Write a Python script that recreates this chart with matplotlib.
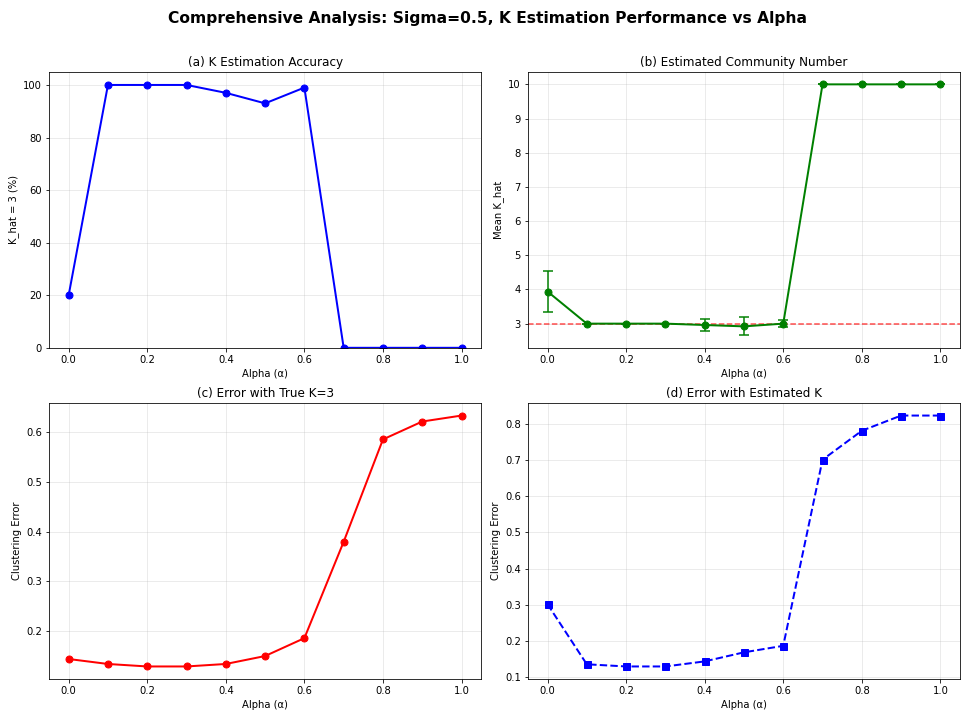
import numpy as np
import matplotlib
matplotlib.use('Agg')
import matplotlib.pyplot as plt

# data
alphas = [0.0, 0.1, 0.2, 0.3, 0.4, 0.5, 0.6, 0.7, 0.8, 0.9, 1.0]
k_acc = [20, 100, 100, 100, 97, 93, 99, 0, 0, 0, 0]
k_mean = [3.94, 3.0, 3.0, 3.0, 2.96, 2.92, 3.0, 10.0, 10.0, 10.0, 10.0]
k_std = [0.59, 0.0, 0.0, 0.0, 0.18, 0.26, 0.1, 0.0, 0.0, 0.0, 0.0]
err_true = [0.144, 0.134, 0.129, 0.129, 0.134, 0.150, 0.186, 0.380, 0.586, 0.622, 0.634]
err_est = [0.302, 0.136, 0.130, 0.130, 0.144, 0.169, 0.187, 0.701, 0.781, 0.823, 0.823]
true_k = 3

DPI = 72
fig, axes = plt.subplots(2, 2, figsize=(961/DPI, 711/DPI), dpi=DPI)
fig.suptitle('Comprehensive Analysis: Sigma=0.5, K Estimation Performance vs Alpha',
             fontsize=15.5, fontweight='bold', x=0.507, y=0.984)

ax = axes[0, 0]
ax.plot(alphas, k_acc, 'b-o', linewidth=2, markersize=7)
ax.set_title('(a) K Estimation Accuracy', fontsize=12)
ax.set_xlabel('Alpha (α)')
ax.set_ylabel('K_hat = 3 (%)')
ax.set_ylim(0, 105)
ax.grid(True, alpha=0.3)

ax = axes[0, 1]
ax.errorbar(alphas, k_mean, yerr=k_std, fmt='g-o', linewidth=2, markersize=7,
            capsize=5, elinewidth=1.5, capthick=1.5)
ax.axhline(y=true_k, color='r', linestyle='--', alpha=0.7, linewidth=1.5)
ax.set_title('(b) Estimated Community Number', fontsize=12)
ax.set_xlabel('Alpha (α)')
ax.set_ylabel('Mean K_hat')
ax.grid(True, alpha=0.3)

ax = axes[1, 0]
ax.plot(alphas, err_true, 'r-o', linewidth=2, markersize=7)
ax.set_title('(c) Error with True K=3', fontsize=12)
ax.set_xlabel('Alpha (α)')
ax.set_ylabel('Clustering Error')
ax.grid(True, alpha=0.3)

ax = axes[1, 1]
ax.plot(alphas, err_est, 'b--s', linewidth=2, markersize=7)
ax.set_title('(d) Error with Estimated K', fontsize=12)
ax.set_xlabel('Alpha (α)')
ax.set_ylabel('Clustering Error')
ax.grid(True, alpha=0.3)

plt.subplots_adjust(left=0.051, right=0.999, top=0.899, bottom=0.045,
                    wspace=0.108, hspace=0.2)
fig.savefig('out.png', dpi=DPI)
